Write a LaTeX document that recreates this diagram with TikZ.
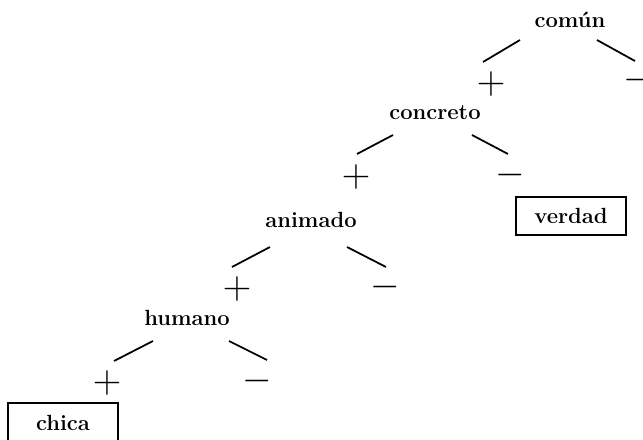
\documentclass[tikz,border=0pt]{standalone}
\usepackage{graphicx}
\usepackage{tikz}
\newcommand{\bigsign}[1]{\scalebox{1.8}{$#1$}}
\begin{document}
\begin{tikzpicture}[thick,
  feature/.style={inner sep=1pt,font=\fontsize{12.5}{15}\selectfont\bfseries},
  sign/.style={inner sep=0pt,font=\fontsize{12}{14}\selectfont},
  word/.style={rectangle,draw,line width=1pt,minimum width=2.2cm,minimum height=0.76cm,font=\fontsize{12.5}{15}\selectfont\bfseries},
  branch/.style={line width=1pt}]
\useasboundingbox (0,0) rectangle (12.86,-8.8);

% features
\node[feature] (comun) at (11.40,-0.40) {común};
\node[feature] (concreto) at (8.70,-2.26) {concreto};
\node[feature] (animado) at (6.22,-4.40) {animado};
\node[feature] (humano) at (3.74,-6.36) {humano};

% values
\node[sign] (plus1) at (9.82,-1.68) {\bigsign{+}};
\node[sign] (minus1) at (12.76,-1.60) {\bigsign{-}};
\node[sign] (plus2) at (7.12,-3.54) {\bigsign{+}};
\node[sign] (minus2) at (10.20,-3.50) {\bigsign{-}};
\node[sign] (plus3) at (4.74,-5.78) {\bigsign{+}};
\node[sign] (minus3) at (7.70,-5.74) {\bigsign{-}};
\node[sign] (plus4) at (2.14,-7.66) {\bigsign{+}};
\node[sign] (minus4) at (5.14,-7.62) {\bigsign{-}};

% words
\node[word] (verdad) at (11.42,-4.32) {verdad};
\node[word,minimum height=0.8cm] (chica) at (1.26,-8.46) {chica};

% branches
\draw[branch] ([shift={(-1.00,-0.40)}]comun.center) -- ([shift={(-0.16,0.44)}]plus1.center);
\draw[branch] ([shift={(0.54,-0.40)}]comun.center) -- ([shift={(-0.06,0.38)}]minus1.center);
\draw[branch] ([shift={(-0.84,-0.44)}]concreto.center) -- ([shift={(0.02,0.46)}]plus2.center);
\draw[branch] ([shift={(0.74,-0.44)}]concreto.center) -- ([shift={(-0.04,0.42)}]minus2.center);
\draw[branch] ([shift={(-0.82,-0.54)}]animado.center) -- ([shift={(-0.10,0.44)}]plus3.center);
\draw[branch] ([shift={(0.72,-0.54)}]animado.center) -- ([shift={(0.02,0.40)}]minus3.center);
\draw[branch] ([shift={(-0.68,-0.46)}]humano.center) -- ([shift={(0.14,0.44)}]plus4.center);
\draw[branch] ([shift={(0.84,-0.46)}]humano.center) -- ([shift={(0.20,0.42)}]minus4.center);

\end{tikzpicture}
\end{document}
